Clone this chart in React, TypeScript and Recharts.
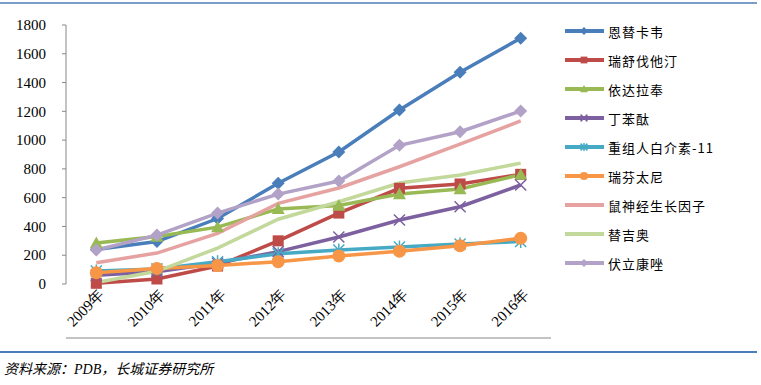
import React from 'react';
import { LineChart, Line, XAxis, YAxis } from 'recharts';

const years = ['2009年', '2010年', '2011年', '2012年', '2013年', '2014年', '2015年', '2016年'];
const yTicks = [0, 200, 400, 600, 800, 1000, 1200, 1400, 1600, 1800];

const entecavir = [240, 295, 455, 700, 917, 1209, 1472, 1708];
const rosuvastatin = [5, 35, 125, 300, 493, 665, 695, 762];
const edaravone = [285, 330, 395, 522, 545, 625, 660, 760];
const butylphthalide = [60, 85, 145, 225, 327, 445, 537, 688];
const interleukin11 = [90, 105, 155, 210, 236, 257, 278, 295];
const remifentanil = [78, 108, 128, 155, 195, 228, 266, 318];
const nerveGrowth = [148, 215, 352, 560, 667, 815, 972, 1133];
const tegafur = [10, 88, 250, 450, 572, 702, 757, 840];
const voriconazole = [236, 340, 493, 625, 716, 964, 1058, 1202];

type Shape = 'diamond' | 'square' | 'triangle' | 'x' | 'star' | 'circle' | 'none';

const series: { key: string; name: string; color: string; shape: Shape; values: number[] }[] = [
  { key: 's0', name: '恩替卡韦', color: '#4a7ebb', shape: 'diamond', values: entecavir },
  { key: 's1', name: '瑞舒伐他汀', color: '#be4b48', shape: 'square', values: rosuvastatin },
  { key: 's2', name: '依达拉奉', color: '#98b954', shape: 'triangle', values: edaravone },
  { key: 's3', name: '丁苯酞', color: '#7d60a0', shape: 'x', values: butylphthalide },
  { key: 's4', name: '重组人白介素-11', color: '#46aac5', shape: 'star', values: interleukin11 },
  { key: 's5', name: '瑞芬太尼', color: '#f79646', shape: 'circle', values: remifentanil },
  { key: 's6', name: '鼠神经生长因子', color: '#e6a2a0', shape: 'none', values: nerveGrowth },
  { key: 's7', name: '替吉奥', color: '#c3d89b', shape: 'none', values: tegafur },
  { key: 's8', name: '伏立康唑', color: '#b3a2c7', shape: 'diamond', values: voriconazole },
];

const data = years.map((name, i) => {
  const row: Record<string, string | number> = { name };
  series.forEach((s) => {
    row[s.key] = s.values[i];
  });
  return row;
});

const serif = '"Liberation Serif", "Times New Roman", serif';
const cjk = '"Noto Sans CJK SC", sans-serif';

const Marker = ({ shape, cx, cy, color, r = 6.5 }: { shape: Shape; cx: number; cy: number; color: string; r?: number }) => {
  if (shape === 'diamond') {
    return <polygon points={`${cx},${cy - r} ${cx + r},${cy} ${cx},${cy + r} ${cx - r},${cy}`} fill={color} />;
  }
  if (shape === 'square') {
    return <rect x={cx - r * 0.85} y={cy - r * 0.85} width={r * 1.7} height={r * 1.7} fill={color} />;
  }
  if (shape === 'triangle') {
    return <polygon points={`${cx},${cy - r} ${cx + r},${cy + r * 0.8} ${cx - r},${cy + r * 0.8}`} fill={color} />;
  }
  if (shape === 'circle') {
    return <circle cx={cx} cy={cy} r={r} fill={color} />;
  }
  if (shape === 'x' || shape === 'star') {
    const d = r * 0.85;
    return (
      <g stroke={color} strokeWidth={1.5}>
        <line x1={cx - d} y1={cy - d} x2={cx + d} y2={cy + d} />
        <line x1={cx - d} y1={cy + d} x2={cx + d} y2={cy - d} />
        {shape === 'star' && <line x1={cx} y1={cy - r} x2={cx} y2={cy + r} />}
      </g>
    );
  }
  return null;
};

const makeDot = (shape: Shape, color: string) => (props: any) => {
  if (shape === 'none' || props.cx == null) return <g key={props.index} />;
  return (
    <g key={props.index}>
      <Marker shape={shape} cx={props.cx} cy={props.cy} color={color} />
    </g>
  );
};

const YearTick = (props: any) => {
  const { x, y, payload } = props;
  return (
    <text
      transform={`translate(${x + 5},${y + 8}) rotate(-45)`}
      textAnchor="end"
      dy="0.35em"
      fill="#000"
      style={{ fontFamily: serif, fontSize: 15 }}
    >
      {payload.value}
    </text>
  );
};

const ValueTick = (props: any) => {
  const { x, y, payload } = props;
  return (
    <text x={x} y={y} dy="0.35em" textAnchor="end" fill="#000" style={{ fontFamily: serif, fontSize: 15 }}>
      {payload.value}
    </text>
  );
};

export default function App() {
  return (
    <div style={{ position: 'absolute', left: 0, top: 0, width: 761, height: 385, background: '#fff' }}>
      <div style={{ position: 'absolute', left: 0, top: 2, width: 757, height: 2, background: '#7b9bc8' }} />
      <LineChart
        width={761}
        height={385}
        data={data}
        margin={{ top: 25, right: 210, left: 0, bottom: 41 }}
      >
        <XAxis
          xAxisId="grid"
          type="number"
          domain={[0, 8]}
          ticks={[0, 1, 2, 3, 4, 5, 6, 7, 8]}
          allowDataOverflow
          tick={false}
          tickSize={5}
          height={6}
          stroke="#888"
        />
        <XAxis
          xAxisId="cat"
          dataKey="name"
          scale="band"
          axisLine={false}
          tickLine={false}
          tickSize={0}
          tickMargin={0}
          interval={0}
          height={54}
          tick={<YearTick />}
        />
        <YAxis
          domain={[0, 1800]}
          ticks={yTicks}
          width={66}
          tickSize={4}
          tickMargin={16}
          stroke="#888"
          tick={<ValueTick />}
        />
        {series.map((s) => (
          <Line
            key={s.key}
            xAxisId="cat"
            dataKey={s.key}
            name={s.name}
            stroke={s.color}
            strokeWidth={3.5}
            dot={makeDot(s.shape, s.color)}
            activeDot={false}
            isAnimationActive={false}
          />
        ))}
      </LineChart>
      <div style={{ position: 'absolute', left: 562, top: 17 }}>
        {series.map((s, i) => (
          <div key={s.key} style={{ position: 'absolute', left: 0, top: i * 29, height: 28, width: 190, display: 'flex', alignItems: 'center' }}>
            <svg width={44} height={14} style={{ display: 'block' }}>
              <line x1={3} y1={7} x2={42} y2={7} stroke={s.color} strokeWidth={4} />
              <Marker shape={s.shape} cx={22} cy={7} color={s.color} r={4} />
            </svg>
            <span style={{ fontFamily: cjk, fontSize: 13, color: '#000', marginLeft: 2, whiteSpace: 'nowrap', letterSpacing: 1 }}>{s.name}</span>
          </div>
        ))}
      </div>
      <div style={{ position: 'absolute', left: 0, top: 351, width: 757, height: 2, background: '#4a7ebb' }} />
      <div style={{ position: 'absolute', left: 4, top: 358, fontFamily: '"Liberation Serif", "Noto Sans CJK SC", serif', fontStyle: 'italic', fontSize: 14, color: '#000', whiteSpace: 'nowrap' }}>
        资料来源：PDB，长城证券研究所
      </div>
    </div>
  );
}
